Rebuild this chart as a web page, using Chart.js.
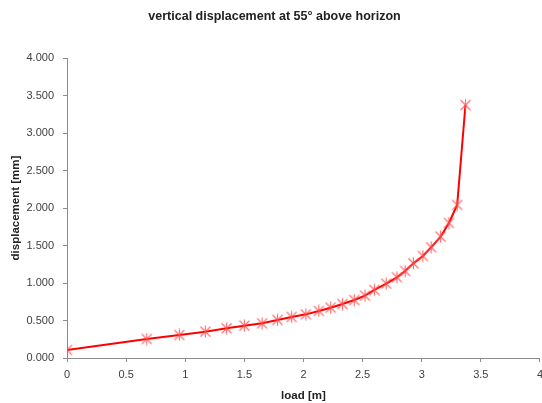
<!DOCTYPE html>
<html>
<head>
<meta charset="utf-8">
<script src="https://cdn.jsdelivr.net/npm/chart.js@4.4.0/dist/chart.umd.min.js"></script>
<style>
  html, body { margin: 0; padding: 0; background: #fff; overflow: hidden; }
  #wrap { width: 549px; height: 403px; }
</style>
</head>
<body>
<div id="wrap"><canvas id="chart"></canvas></div>
<script>
// load [m] and vertical displacement [mm]
const loads = [0, 0.675, 0.95, 1.17, 1.35, 1.5, 1.65, 1.78, 1.9, 2.02, 2.13, 2.23, 2.33, 2.43, 2.52, 2.6, 2.7, 2.79, 2.86, 2.93, 3.01, 3.08, 3.16, 3.23, 3.3, 3.37];
const displacements = [0.107, 0.253, 0.307, 0.351, 0.396, 0.431, 0.462, 0.507, 0.547, 0.582, 0.627, 0.671, 0.72, 0.773, 0.831, 0.907, 0.991, 1.076, 1.16, 1.262, 1.36, 1.476, 1.618, 1.8, 2.04, 3.373];
const xTicks = [0, 0.5, 1, 1.5, 2, 2.5, 3, 3.5, 4];
const yTicks = [0, 0.5, 1, 1.5, 2, 2.5, 3, 3.5, 4];

// excel-like star marker: an X with a vertical stroke
const marker = document.createElement("canvas");
marker.width = 13;
marker.height = 13;
const m = marker.getContext("2d");
m.strokeStyle = "rgba(255, 80, 80, 0.85)";
m.lineWidth = 1.1;
m.beginPath();
m.moveTo(1.5, 1.5); m.lineTo(11.5, 11.5);
m.moveTo(11.5, 1.5); m.lineTo(1.5, 11.5);
m.moveTo(6.5, 0.5); m.lineTo(6.5, 12.5);
m.stroke();

const points = loads.map((x, i) => ({ x: x, y: displacements[i] }));

const axisColor = "#8c8c8c";
const textColor = "#404040";
const font = "Liberation Sans, Arial";

new Chart(document.getElementById("chart"), {
  type: "scatter",
  data: {
    datasets: [{
      data: points,
      showLine: true,
      borderColor: "#ff0000",
      borderWidth: 2,
      pointStyle: marker,
      pointRadius: 6,
      tension: 0,
    }],
  },
  options: {
    responsive: true,
    maintainAspectRatio: false,
    animation: false,
    plugins: {
      legend: { display: false },
      tooltip: { enabled: false },
      title: {
        display: true,
        text: "vertical displacement at 55° above horizon",
        color: "#222",
        font: { family: font, size: 12.5, weight: "bold" },
        padding: { top: 9, bottom: 34 },
      },
    },
    scales: {
      x: {
        type: "linear",
        min: 0,
        max: 4,
        afterBuildTicks: (s) => { s.ticks = xTicks.map(v => ({ value: v })); },
        afterFit: (s) => { s.height = 45; },
        ticks: {
          color: textColor,
          padding: 6,
          maxRotation: 0,
          font: { family: font, size: 11 },
          callback: (v) => String(v),
        },
        grid: { drawOnChartArea: false, color: axisColor, tickLength: 4 },
        border: { color: axisColor, width: 1 },
        title: {
          display: true,
          text: "load [m]",
          color: "#222",
          font: { family: font, size: 11.5, weight: "bold" },
          padding: { top: 6, bottom: 0 },
        },
      },
      y: {
        type: "linear",
        min: 0,
        max: 4,
        afterBuildTicks: (s) => { s.ticks = yTicks.map(v => ({ value: v })); },
        afterFit: (s) => { s.width = 67; },
        ticks: {
          color: textColor,
          padding: 9,
          font: { family: font, size: 11 },
          callback: (v) => Number(v).toFixed(3),
        },
        grid: { drawOnChartArea: false, color: axisColor, tickLength: 4 },
        border: { color: axisColor, width: 1 },
        title: {
          display: true,
          text: "displacement [mm]",
          color: "#222",
          font: { family: font, size: 11.5, weight: "bold" },
          padding: { top: 9, bottom: 0 },
        },
      },
    },
  },
});
</script>
</body>
</html>
